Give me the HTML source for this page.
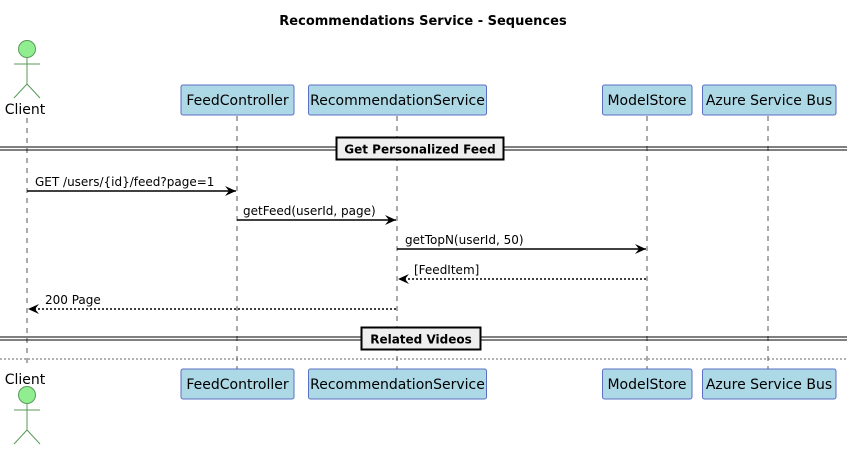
<!DOCTYPE html>
<html><head><meta charset="utf-8"><style>
html,body{margin:0;padding:0;background:#fff;}
svg{display:block;}
text{font-family:"DejaVu Sans","Liberation Sans",sans-serif;}
</style></head><body>
<svg width="847" height="450" viewBox="0 0 847 450" xmlns="http://www.w3.org/2000/svg">
<defs>
<marker id="ah" markerWidth="12" markerHeight="10" refX="11" refY="5" orient="auto" markerUnits="userSpaceOnUse">
<path d="M0,0 L11,5 L0,10 L4,5 Z" fill="#000"/>
</marker>
</defs>
<text x="423" y="25" text-anchor="middle" font-family="Liberation Sans" font-weight="bold" font-size="13">Recommendations Service - Sequences</text>

<!-- lifelines -->
<g stroke="#555" stroke-width="1" stroke-dasharray="5,5">
<line x1="27" y1="118" x2="27" y2="368"/>
<line x1="237" y1="116" x2="237" y2="369"/>
<line x1="397" y1="116" x2="397" y2="369"/>
<line x1="647" y1="116" x2="647" y2="369"/>
<line x1="768" y1="116" x2="768" y2="369"/>
</g>

<!-- top actor -->
<g stroke="#5a9a5a" stroke-width="1" fill="none">
<circle cx="27" cy="49" r="8.5" fill="#90ee90"/>
<line x1="27" y1="57.5" x2="27" y2="84"/>
<line x1="14" y1="64" x2="40" y2="64"/>
<line x1="27" y1="84" x2="14" y2="98"/>
<line x1="27" y1="84" x2="40" y2="98"/>
</g>
<text x="25" y="114" text-anchor="middle" font-size="14">Client</text>

<!-- top boxes -->
<g fill="#add8e6" stroke="#5b6fc4" stroke-width="1">
<rect x="181" y="85" width="113" height="30" rx="2"/>
<rect x="308.5" y="85" width="178" height="30" rx="2"/>
<rect x="602.5" y="85" width="89.5" height="30" rx="2"/>
<rect x="702.5" y="85" width="133.5" height="30" rx="2"/>
</g>
<g font-size="14" text-anchor="middle">
<text x="237.5" y="105">FeedController</text>
<text x="397.5" y="105">RecommendationService</text>
<text x="647" y="105">ModelStore</text>
<text x="769" y="105">Azure Service Bus</text>
</g>

<!-- divider 1 -->
<g stroke="#000" stroke-width="1">
<line x1="0" y1="147" x2="847" y2="147"/>
<line x1="0" y1="150" x2="847" y2="150"/>
</g>
<rect x="336.5" y="137.5" width="167" height="22" fill="#eee" stroke="#000" stroke-width="2"/>
<text x="420" y="153.5" text-anchor="middle" font-size="12" font-weight="bold">Get Personalized Feed</text>

<!-- messages -->
<g stroke="#000" stroke-width="1.5" fill="none">
<line x1="27" y1="191" x2="236" y2="191" marker-end="url(#ah)"/>
<line x1="237" y1="220" x2="396" y2="220" marker-end="url(#ah)"/>
<line x1="397" y1="249" x2="646" y2="249" marker-end="url(#ah)"/>
<line x1="646" y1="279" x2="398" y2="279" stroke-dasharray="2,2" marker-end="url(#ah)"/>
<line x1="396" y1="309" x2="28" y2="309" stroke-dasharray="2,2" marker-end="url(#ah)"/>
</g>
<g font-size="12">
<text x="35" y="186">GET /users/{id}/feed?page=1</text>
<text x="243" y="215">getFeed(userId, page)</text>
<text x="405" y="244">getTopN(userId, 50)</text>
<text x="414" y="274">[FeedItem]</text>
<text x="45" y="304">200 Page</text>
</g>

<!-- divider 2 -->
<g stroke="#000" stroke-width="1">
<line x1="0" y1="337" x2="847" y2="337"/>
<line x1="0" y1="340" x2="847" y2="340"/>
</g>
<rect x="361.5" y="327.5" width="119" height="22" fill="#eee" stroke="#000" stroke-width="2"/>
<text x="421" y="343.5" text-anchor="middle" font-size="12" font-weight="bold">Related Videos</text>

<line x1="0" y1="359" x2="847" y2="359" stroke="#666" stroke-width="1" stroke-dasharray="2,2"/>

<!-- bottom -->
<text x="25" y="384" text-anchor="middle" font-size="14">Client</text>
<g stroke="#5a9a5a" stroke-width="1" fill="none">
<circle cx="27" cy="395" r="8.5" fill="#90ee90"/>
<line x1="27" y1="403.5" x2="27" y2="430"/>
<line x1="14" y1="410" x2="40" y2="410"/>
<line x1="27" y1="430" x2="14" y2="444"/>
<line x1="27" y1="430" x2="40" y2="444"/>
</g>
<g fill="#add8e6" stroke="#5b6fc4" stroke-width="1">
<rect x="181" y="369" width="113" height="30" rx="2"/>
<rect x="308.5" y="369" width="178" height="30" rx="2"/>
<rect x="602.5" y="369" width="89.5" height="30" rx="2"/>
<rect x="702.5" y="369" width="133.5" height="30" rx="2"/>
</g>
<g font-size="14" text-anchor="middle">
<text x="237.5" y="389">FeedController</text>
<text x="397.5" y="389">RecommendationService</text>
<text x="647" y="389">ModelStore</text>
<text x="769" y="389">Azure Service Bus</text>
</g>
</svg>
</body></html>
